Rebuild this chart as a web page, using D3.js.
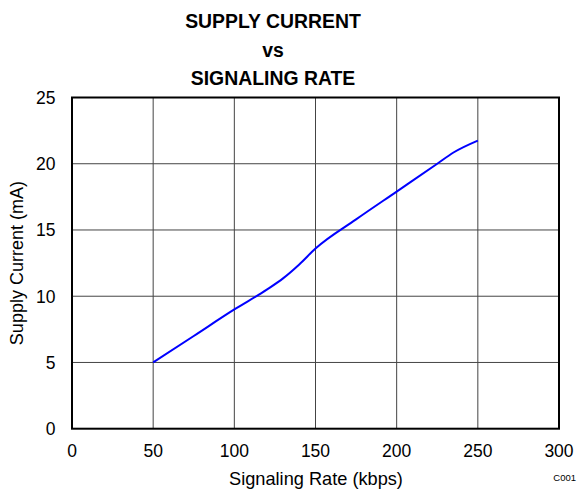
<!DOCTYPE html>
<html><head><meta charset="utf-8">
<script src="https://cdn.jsdelivr.net/npm/d3@7"></script>
<style>body{margin:0;background:#fff}svg{display:block}</style>
</head><body>
<script>
const rates = [50, 75, 100, 120, 130, 140, 150, 175, 200, 225, 235, 250];
const current = [5.0, 7.0, 9.0, 10.5, 11.35, 12.4, 13.6, 15.8, 17.9, 20.0, 20.85, 21.75];
const xTicks = [0, 50, 100, 150, 200, 250, 300];
const yTicks = [0, 5, 10, 15, 20, 25];
const titleLines = ["SUPPLY CURRENT", "vs", "SIGNALING RATE"];

const W = 577, H = 489;
const m = {left: 72, right: 559, top: 97.5, bottom: 428.7};
const svg = d3.select("body").append("svg").attr("width", W).attr("height", H);
const font = "Liberation Sans, Arial, sans-serif";

const x = d3.scaleLinear().domain([0, 300]).range([m.left, m.right]);
const y = d3.scaleLinear().domain([0, 25]).range([m.bottom, m.top]);

// grid
svg.append("g").selectAll("line.v").data(xTicks.slice(1, -1)).join("line")
  .attr("x1", d => x(d)).attr("x2", d => x(d)).attr("y1", m.top).attr("y2", m.bottom)
  .attr("stroke", "#444").attr("stroke-width", 1);
svg.append("g").selectAll("line.h").data(yTicks.slice(1, -1)).join("line")
  .attr("y1", d => y(d)).attr("y2", d => y(d)).attr("x1", m.left).attr("x2", m.right)
  .attr("stroke", "#444").attr("stroke-width", 1);

// line
const line = d3.line().x((d, i) => x(rates[i])).y(d => y(d)).curve(d3.curveMonotoneX);
svg.append("path").datum(current).attr("d", line)
  .attr("fill", "none").attr("stroke", "#0000ff").attr("stroke-width", 2);

// frame
svg.append("rect").attr("x", m.left).attr("y", m.top)
  .attr("width", m.right - m.left).attr("height", m.bottom - m.top)
  .attr("fill", "none").attr("stroke", "#000").attr("stroke-width", 2);

// axes labels
svg.append("g").selectAll("text").data(xTicks).join("text")
  .attr("x", d => x(d)).attr("y", 457).attr("text-anchor", "middle")
  .attr("font-family", font).attr("font-size", 17.5).text(d => d);
svg.append("g").selectAll("text").data(yTicks).join("text")
  .attr("x", 55.5).attr("y", d => y(d) + 6.5).attr("text-anchor", "end")
  .attr("font-family", font).attr("font-size", 17.5).text(d => d);

svg.append("text").attr("x", 316).attr("y", 484.5)
  .attr("text-anchor", "middle").attr("font-family", font).attr("font-size", 18.2)
  .text("Signaling Rate (kbps)");
svg.append("text").attr("transform", `translate(23,${(m.top + m.bottom) / 2}) rotate(-90)`)
  .attr("text-anchor", "middle").attr("font-family", font).attr("font-size", 18)
  .text("Supply Current (mA)");

svg.append("text").attr("x", 576).attr("y", 481).attr("text-anchor", "end")
  .attr("font-family", font).attr("font-size", 9.5).text("C001");

// title
svg.append("g").selectAll("text").data(titleLines).join("text")
  .attr("x", 273).attr("y", (d, i) => 28.3 + i * 28.35).attr("text-anchor", "middle")
  .attr("font-family", font).attr("font-size", 19.4).attr("font-weight", "bold").text(d => d);
</script>
</body></html>
